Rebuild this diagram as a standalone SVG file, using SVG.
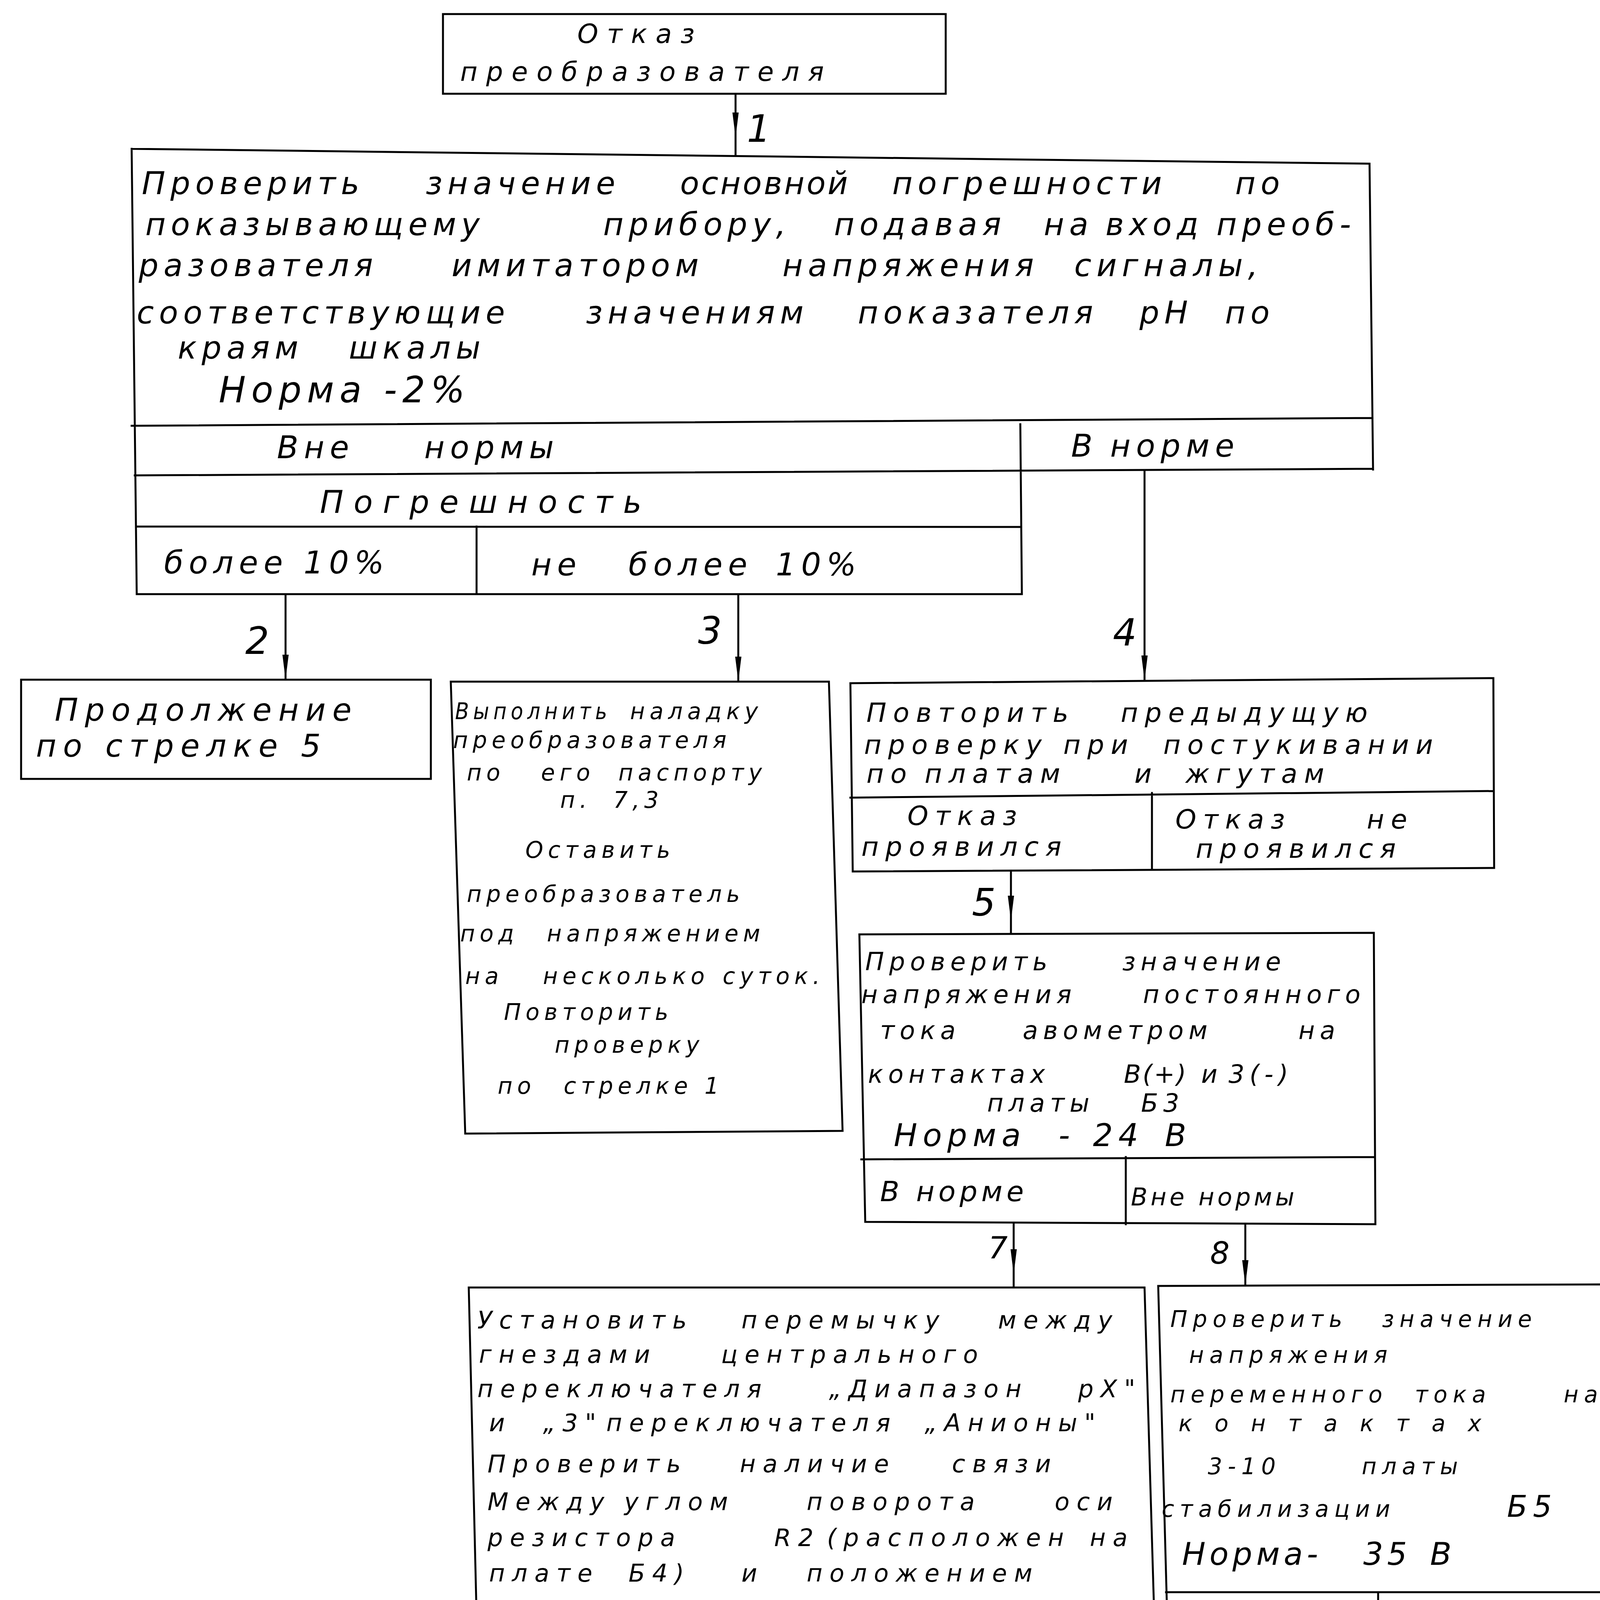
<svg xmlns="http://www.w3.org/2000/svg" width="4119" height="5472" viewBox="0 0 4119 5472">
<style>
.b{fill:none;stroke:#000;stroke-width:5;stroke-linecap:square;stroke-linejoin:miter}
.c{fill:none;stroke:#000;stroke-width:5}
text{font-family:"DejaVu Sans","Liberation Sans",sans-serif;font-style:italic;fill:#000}
.tt{font-size:68px;letter-spacing:22px}
.tb{font-size:80px;letter-spacing:13px}
.tn{font-size:92px;letter-spacing:14px}
.t2{font-size:80px;letter-spacing:17px}
.t3{font-size:58px;letter-spacing:12px}
.t4{font-size:68px;letter-spacing:17px}
.t5{font-size:64px;letter-spacing:13px}
.t5n{font-size:80px;letter-spacing:14px}
.t7{font-size:62px;letter-spacing:18px}
.t8{font-size:58px;letter-spacing:14px}
.t8n{font-size:80px;letter-spacing:10px}
.t9{font-size:56px;letter-spacing:12px}
.cl{font-size:80px;letter-spacing:14px}
.lb{font-size:96px}
.lbs{font-size:78px}
.ft{font-size:78px;font-weight:bold}
</style>
<defs>
<marker id="ah" markerUnits="userSpaceOnUse" markerWidth="64" markerHeight="20" viewBox="0 0 64 20" refX="64" refY="10" orient="auto">
<path d="M0,2 L64,10 L0,18 Z" fill="#000"/>
</marker>
</defs>
<rect x="0" y="0" width="4119" height="5472" fill="#fff"/>

<g id="n0">
<path class="b" d="M1134,36 L2421,36 L2421,240 L1134,240 Z"/>
<text class="tt" x="1478" y="110">Отказ</text>
<text class="tt" x="1178" y="207">преобразователя</text>
</g>

<g id="n1">
<path class="b" d="M337,381 L3506,419 L3515,1202 M337,381 L350,1521 L2616,1521 M337,1090 L3512,1070 M345,1217 L3515,1200 M2612,1086 L2616,1521 M348,1348 L2614,1349 M1220,1348 L1220,1519"/>
<text class="tb" y="497"><tspan x="363">Проверить</tspan><tspan x="1090">значение</tspan><tspan x="1741" style="letter-spacing:5px">основной</tspan><tspan x="2284">погрешности</tspan><tspan x="3162">по</tspan></text>
<text class="tb" y="602"><tspan x="372">показывающему</tspan><tspan x="1544">прибору,</tspan><tspan x="2135">подавая</tspan><tspan x="2672">на</tspan><tspan x="2830">вход</tspan><tspan x="3114">преоб-</tspan></text>
<text class="tb" y="707"><tspan x="355">разователя</tspan><tspan x="1156">имитатором</tspan><tspan x="2003">напряжения</tspan><tspan x="2750">сигналы,</tspan></text>
<text class="tb" y="828"><tspan x="350">соответствующие</tspan><tspan x="1500">значениям</tspan><tspan x="2196">показателя</tspan><tspan x="2917">pH</tspan><tspan x="3136">по</tspan></text>
<text class="tb" y="918"><tspan x="455">краям</tspan><tspan x="893">шкалы</tspan></text>
<text class="tn" x="560" y="1030">Норма -2%</text>
<text class="cl" y="1173"><tspan x="709">Вне</tspan><tspan x="1086">нормы</tspan></text>
<text class="cl" y="1169"><tspan x="2742">В</tspan><tspan x="2842">норме</tspan></text>
<text class="cl" x="819" y="1313" style="letter-spacing:26px">Погрешность</text>
<text class="cl" x="420" y="1468">более 10%</text>
<text class="cl" y="1473"><tspan x="1360">не</tspan><tspan x="1609">более</tspan><tspan x="1986">10%</tspan></text>
</g>

<g id="n2">
<path class="b" d="M54,1740 L1103,1740 L1103,1994 L54,1994 Z"/>
<text class="t2" x="140" y="1845">Продолжение</text>
<text class="t2" x="92" y="1937">по стрелке 5</text>
</g>

<g id="n3">
<path class="b" d="M1154,1745 L2122,1745 L2157,2895 L1191,2902 Z"/>
<text class="t3" x="1165" y="1841" textLength="400" lengthAdjust="spacingAndGlyphs">Выполнить</text>
<text class="t3" x="1613" y="1841">наладку</text>
<text class="t3" x="1160" y="1915">преобразователя</text>
<text class="t3" y="1998"><tspan x="1195">по</tspan><tspan x="1385">его</tspan><tspan x="1583">паспорту</tspan></text>
<text class="t3" y="2068"><tspan x="1434">п.</tspan><tspan x="1570">7,3</tspan></text>
<text class="t3" x="1345" y="2196">Оставить</text>
<text class="t3" x="1195" y="2309">преобразователь</text>
<text class="t3" y="2410"><tspan x="1178">под</tspan><tspan x="1400">напряжением</tspan></text>
<text class="t3" y="2519"><tspan x="1191">на</tspan><tspan x="1390">несколько</tspan><tspan x="1850">суток.</tspan></text>
<text class="t3" x="1290" y="2611">Повторить</text>
<text class="t3" x="1420" y="2695">проверку</text>
<text class="t3" y="2800"><tspan x="1274">по</tspan><tspan x="1443">стрелке 1</tspan></text>
</g>

<g id="n4">
<path class="b" d="M2177,1749 L3823,1736 L3825,2222 L2183,2231 Z M2177,2042 L3823,2025 M2949,2030 L2949,2226"/>
<text class="t4" y="1848"><tspan x="2218">Повторить</tspan><tspan x="2869">предыдущую</tspan></text>
<text class="t4" y="1930"><tspan x="2212">проверку</tspan><tspan x="2722">при</tspan><tspan x="2978">постукивании</tspan></text>
<text class="t4" y="2004"><tspan x="2218">по</tspan><tspan x="2367">платам</tspan><tspan x="2904">и</tspan><tspan x="3035">жгутам</tspan></text>
<text class="t4" x="2323" y="2112">Отказ</text>
<text class="t4" x="2205" y="2191">проявился</text>
<text class="t4" y="2121"><tspan x="3009">Отказ</tspan><tspan x="3499">не</tspan></text>
<text class="t4" x="3061" y="2196">проявился</text>
</g>

<g id="n5">
<path class="b" d="M2200,2392 L3517,2388 L3521,3134 L2215,3128 Z M2205,2968 L3520,2962 M2882,2962 L2882,3134"/>
<text class="t5" y="2484"><tspan x="2215">Проверить</tspan><tspan x="2873">значение</tspan></text>
<text class="t5" y="2568"><tspan x="2205">напряжения</tspan><tspan x="2926">постоянного</tspan></text>
<text class="t5" y="2660"><tspan x="2253">тока</tspan><tspan x="2618">авометром</tspan><tspan x="3324">на</tspan></text>
<text class="t5" y="2772"><tspan x="2222">контактах</tspan><tspan x="2877" style="letter-spacing:4px">В(+)</tspan><tspan x="3075">и</tspan><tspan x="3145">3(-)</tspan></text>
<text class="t5" y="2846"><tspan x="2527">платы</tspan><tspan x="2921">Б3</tspan></text>
<text class="t5n" y="2934"><tspan x="2288">Норма</tspan><tspan x="2710">-</tspan><tspan x="2798">24</tspan><tspan x="2982">В</tspan></text>
<text class="cl" x="2253" y="3075" style="font-size:72px;letter-spacing:10px">В норме</text>
<text class="cl" x="2895" y="3086" style="font-size:62px;letter-spacing:8px">Вне нормы</text>
</g>

<g id="n7">
<path class="b" d="M1200,3296 L2930,3296 L2978,4923 L1239,4931 Z M1235,4743 L2976,4727 M2177,4735 L2177,4927"/>
<text class="t7" y="3401"><tspan x="1222">Установить</tspan><tspan x="1898">перемычку</tspan><tspan x="2555">между</tspan></text>
<text class="t7" y="3489"><tspan x="1226">гнездами</tspan><tspan x="1846">центрального</tspan></text>
<text class="t7" y="3577"><tspan x="1222">переключателя</tspan><tspan x="2122">„Диапазон</tspan><tspan x="2760">pX"</tspan></text>
<text class="t7" y="3664"><tspan x="1252">и</tspan><tspan x="1390">„3"</tspan><tspan x="1552">переключателя</tspan><tspan x="2367">„Анионы"</tspan></text>
<text class="t7" y="3769"><tspan x="1248">Проверить</tspan><tspan x="1894">наличие</tspan><tspan x="2437">связи</tspan></text>
<text class="t7" y="3866"><tspan x="1248">Между</tspan><tspan x="1598">углом</tspan><tspan x="2065">поворота</tspan><tspan x="2700">оси</tspan></text>
<text class="t7" y="3958"><tspan x="1248">резистора</tspan><tspan x="1982">R2</tspan><tspan x="2117">(расположен</tspan><tspan x="2790">на</tspan></text>
<text class="t7" y="4049"><tspan x="1252">плате</tspan><tspan x="1609">Б4)</tspan><tspan x="1898">и</tspan><tspan x="2065">положением</tspan></text>
<text class="t7" y="4165"><tspan x="1252">указателя,</tspan><tspan x="2003">показывающего</tspan></text>
<text class="t7" x="1270" y="4244">прибора</text>
<text class="t7" y="4358"><tspan x="1296">Норма</tspan><tspan x="1714">указатель</tspan><tspan x="2503">уста-</tspan></text>
<text class="t7" y="4445"><tspan x="1252">навливается</tspan><tspan x="2065">на</tspan><tspan x="2205">начале</tspan><tspan x="2564">шкалы</tspan></text>
<text class="t7" y="4551"><tspan x="1270">при</tspan><tspan x="1544">установке</tspan><tspan x="2284">перемычки</tspan></text>
<text class="t7" y="4651"><tspan x="1270">и</tspan><tspan x="1380">есть</tspan><tspan x="1763">названная</tspan><tspan x="2450">связь</tspan></text>
<text class="cl" y="4883" style="font-size:76px"><tspan x="1322">В</tspan><tspan x="1487">норме</tspan></text>
<text class="cl" y="4875" style="font-size:66px;letter-spacing:10px"><tspan x="2196">Вне</tspan><tspan x="2463">нормы</tspan></text>
</g>

<g id="n8">
<path class="b" d="M2965,3292 L4108,3288 L4108,4249 L2991,4249 Z M2985,4076 L4108,4076 M3528,4076 L3528,4249"/>
<text class="t8" y="3397"><tspan x="2996">Проверить</tspan><tspan x="3538">значение</tspan></text>
<text class="t8" x="3044" y="3489">напряжения</text>
<text class="t8" y="3590"><tspan x="2996">переменного</tspan><tspan x="3622">тока</tspan><tspan x="4003">на</tspan></text>
<text class="t8" x="3017" y="3664" textLength="789" lengthAdjust="spacing">контактах</text>
<text class="t8" y="3774"><tspan x="3092">3-10</tspan><tspan x="3486">платы</tspan></text>
<text class="t8" y="3883"><tspan x="2974">стабилизации</tspan><tspan x="3858" style="font-size:76px">Б5</tspan></text>
<text class="t8n" y="4006"><tspan x="3026">Норма-</tspan><tspan x="3490">35</tspan><tspan x="3661">В</tspan></text>
<text class="cl" y="4209" style="font-size:70px;letter-spacing:8px"><tspan x="3013">В</tspan><tspan x="3118">норме</tspan></text>
<text class="cl" y="4209" style="font-size:62px;letter-spacing:6px"><tspan x="3543">Вне</tspan><tspan x="3766">нормы</tspan></text>
</g>

<g id="n9">
<path class="b" d="M2996,4406 L3582,4406 L3582,4774 L2996,4774 Z"/>
<text class="t9" x="3109" y="4498" style="font-size:64px">Отказ</text>
<text class="t9" y="4572" style="font-size:64px"><tspan x="3017">в</tspan><tspan x="3158">плате</tspan></text>
<text class="t9" x="3000" y="4656">стабилизации</text>
<text class="t9" x="3219" y="4752" style="font-size:74px">Б5</text>
</g>

<g id="n10">
<path class="b" d="M3608,4419 L4112,4419 L4112,4971 L3608,4971 Z"/>
<text class="t9" y="4502" style="font-size:62px"><tspan x="3639">Отказ</tspan><tspan x="4007">в</tspan></text>
<text class="t9" x="3626" y="4581">силовом</text>
<text class="t9" x="3622" y="4673">трансфор-</text>
<text class="t9" x="3648" y="4761">маторе</text>
<text class="t9" y="4857" style="letter-spacing:6px"><tspan x="3613">(Плата</tspan><tspan x="3975" style="font-size:62px;letter-spacing:0px">Б6)</tspan></text>
</g>

<g id="connectors">
<path class="c" d="M1883,240 L1883,352 L1883,399" marker-mid="url(#ah)"/>
<path class="c" d="M731,1519 L731,1740" marker-end="url(#ah)"/>
<path class="c" d="M1890,1521 L1890,1745" marker-end="url(#ah)"/>
<path class="c" d="M2930,1205 L2930,1742" marker-end="url(#ah)"/>
<path class="c" d="M2588,2231 L2588,2357 L2588,2392" marker-mid="url(#ah)"/>
<path class="c" d="M2595,3128 L2595,3262 L2595,3296" marker-mid="url(#ah)"/>
<path class="c" d="M3188,3134 L3188,3290" marker-end="url(#ah)"/>
<path class="c" d="M3375,4249 L3375,4404" marker-end="url(#ah)"/>
<path class="c" d="M3902,4249 L3902,4417" marker-end="url(#ah)"/>
<path class="c" d="M1748,4931 L1756,5472"/>
<path class="c" d="M2603,4927 L2606,5472"/>
<text class="lb" x="1912" y="363">1</text>
<text class="lb" x="628" y="1674">2</text>
<text class="lb" x="1787" y="1648">3</text>
<text class="lb" x="2849" y="1653">4</text>
<text class="lb" x="2488" y="2344">5</text>
<text class="lbs" x="2530" y="3222">7</text>
<text class="lbs" x="3098" y="3235">8</text>
<text class="lb" x="3287" y="4367">9</text>
<text class="lbs" x="3795" y="4358">10</text>
<text class="lbs" x="1638" y="5058">11</text>
<text class="lbs" x="2492" y="5045">12</text>
</g>

<text class="ft" x="932" y="5466">13/667</text>
</svg>
